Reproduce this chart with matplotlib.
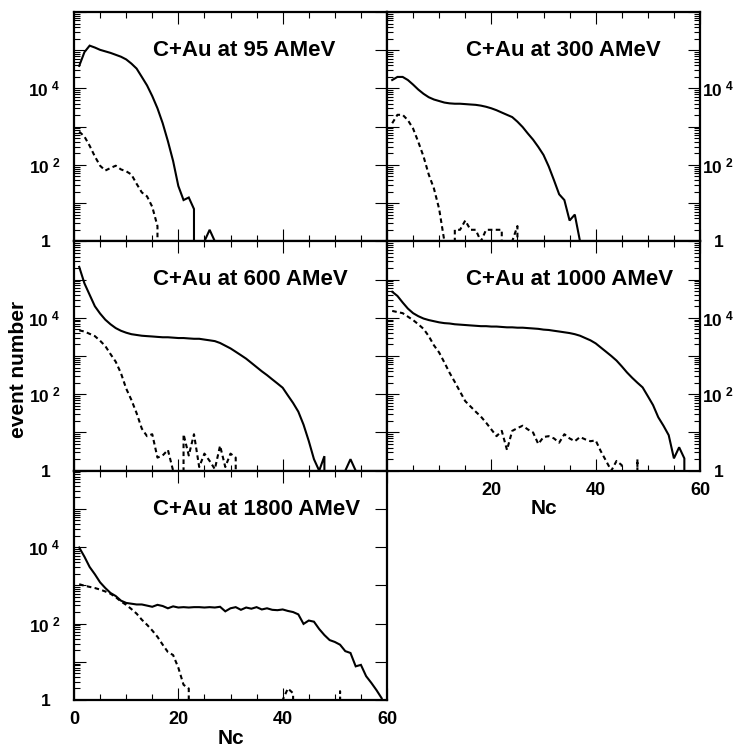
import numpy as np
import matplotlib
matplotlib.use("Agg")
import matplotlib.pyplot as plt
from matplotlib.ticker import FixedLocator, MultipleLocator, LogLocator, FuncFormatter, NullFormatter

plt.rcParams['font.family'] = ['Liberation Sans', 'DejaVu Sans']
plt.rcParams['font.weight'] = 'bold'
plt.rcParams['mathtext.fontset'] = 'custom'
plt.rcParams['mathtext.rm'] = 'Liberation Sans:bold'
plt.rcParams['mathtext.bf'] = 'Liberation Sans:bold'
plt.rcParams['mathtext.it'] = 'Liberation Sans:bold'

# ---------------- data (event counts per Nc bin, Nc = 1, 2, 3, ...) ----------------
titles = ["C+Au at 95 AMeV", "C+Au at 300 AMeV", "C+Au at 600 AMeV",
          "C+Au at 1000 AMeV", "C+Au at 1800 AMeV"]

solid_95 = [38900, 89100, 131800, 117500, 102300, 93300, 85100, 75900, 67600, 57500,
            44700, 33100, 20000, 12000, 6310, 3020, 1230, 417, 126, 28,
            12, 14, 7, 0, 1, 2, 1, 0]
dashed_95 = [741, 550, 316, 166, 95, 71, 83, 95, 76, 68,
             56, 32, 19, 15, 8, 2.5, 0]

solid_300 = [16600, 20000, 20000, 16600, 12600, 9330, 7240, 5890, 5130, 4680,
             4270, 4070, 3980, 3980, 3890, 3800, 3720, 3550, 3310, 3020,
             2690, 2340, 2040, 1780, 1350, 977, 661, 457, 295, 182,
             91, 40, 17, 12, 3.5, 5, 1, 0]
dashed_300 = [1230, 2040, 2040, 1480, 891, 398, 166, 56, 24, 7,
              1, 0, 2, 2, 3.5, 2, 2, 1, 2, 2,
              2, 2, 0, 1, 2.5, 0]

solid_600 = [214000, 79400, 39800, 20000, 12900, 8910, 6760, 5370, 4570, 4070,
             3720, 3550, 3390, 3310, 3240, 3160, 3090, 3090, 3020, 2950,
             2950, 2880, 2820, 2820, 2690, 2570, 2450, 2190, 1860, 1580,
             1290, 1050, 851, 661, 513, 398, 316, 245, 191, 148,
             93, 59, 35, 16, 6, 2, 1, 2.4, 0, 0,
             0, 1, 2, 1, 0]
dashed_600 = [4680, 4370, 3800, 3310, 2510, 1820, 1120, 708, 355, 141,
              71, 32, 12.6, 8, 9, 2.2, 2.5, 3.5, 1, 0,
              9, 2.5, 9, 1.25, 2.8, 1.8, 1.1, 4.5, 1.25, 2.8,
              2.2, 0]

solid_1000 = [47900, 37200, 25100, 17400, 13200, 11000, 9550, 8710, 8130, 7590,
              7240, 7080, 6760, 6610, 6460, 6310, 6170, 6030, 6030, 5890,
              5890, 5750, 5620, 5620, 5500, 5500, 5370, 5250, 5130, 4900,
              4790, 4570, 4370, 4170, 3980, 3720, 3390, 2950, 2570, 2140,
              1660, 1290, 1000, 759, 537, 372, 269, 200, 151, 89,
              52, 25, 15, 8.5, 2.1, 4.1, 2.1, 0]
dashed_1000 = [15100, 14100, 13200, 10700, 8710, 6760, 5130, 3310, 1900, 1230,
               676, 363, 209, 117, 66, 48, 35, 26, 18, 12,
               8, 11, 3.5, 11, 13, 15, 12, 10, 5, 7.6,
               8, 7, 5.4, 9, 7, 5.9, 7.6, 6.6, 5.9, 6.2,
               3.2, 1.8, 1, 1.8, 1.4, 0, 0, 2, 0]

solid_1800 = [9770, 5620, 3020, 1950, 1200, 851, 631, 525, 398, 347,
              331, 316, 316, 295, 275, 309, 288, 251, 282, 263,
              269, 263, 269, 269, 263, 269, 263, 275, 209, 251,
              269, 229, 263, 245, 269, 234, 251, 229, 224, 234,
              214, 200, 174, 98, 120, 112, 72, 50, 37, 33,
              28, 19, 17, 7.6, 8.3, 4.2, 2.8, 1.8, 1.1, 0]
dashed_1800 = [1070, 977, 912, 851, 776, 692, 603, 490, 380, 309,
               240, 182, 126, 93, 66, 45, 28, 18, 15, 7,
               2.5, 2, 0, 0, 0, 0, 0, 0, 0, 0,
               0, 0, 0, 0, 0, 0, 0, 0, 0, 1,
               2, 1.5, 0, 0, 0, 0, 0, 0, 0, 0,
               1.7, 0]

x_ticks_major = [0, 20, 40, 60]

panels = [
    (titles[0], solid_95, dashed_95, 0, 0),
    (titles[1], solid_300, dashed_300, 0, 1),
    (titles[2], solid_600, dashed_600, 1, 0),
    (titles[3], solid_1000, dashed_1000, 1, 1),
    (titles[4], solid_1800, dashed_1800, 2, 0),
]

# ---------------- layout ----------------
W, H = 745.0, 748.0
fig = plt.figure(figsize=(W / 100, H / 100), dpi=100)
cols = [(74, 387), (387, 700)]
rows = [(12, 241.3), (241.3, 470.7), (470.7, 700)]


def rect(c, r):
    x0, x1 = cols[c]
    y0, y1 = rows[r]
    return [x0 / W, 1 - y1 / H, (x1 - x0) / W, (y1 - y0) / H]


def ylab(v, pos):
    if v <= 0:
        return ''
    e = int(round(np.log10(v)))
    if e == 0:
        return '1  '
    if e in (2, 4):
        return r'$10^{\ %d}$' % e
    return ''


for title, s, d, r, c in panels:
    ax = fig.add_axes(rect(c, r))
    xs = np.arange(1, len(s) + 1)
    xd = np.arange(1, len(d) + 1)
    ax.plot(xs, s, color='black', lw=1.5, solid_joinstyle='miter')
    ax.plot(xd, d, color='black', lw=1.5, linestyle=(0, (2.2, 1.6)))
    ax.set_yscale('log', nonpositive='clip')
    ax.set_xlim(0, 60)
    ax.set_ylim(1, 1e6)
    for sp in ax.spines.values():
        sp.set_linewidth(1.6)
    ax.xaxis.set_major_locator(FixedLocator(x_ticks_major))
    ax.xaxis.set_minor_locator(MultipleLocator(5))
    ax.yaxis.set_major_locator(FixedLocator([1, 10, 100, 1e3, 1e4, 1e5, 1e6]))
    ax.yaxis.set_minor_locator(LogLocator(base=10, subs=np.arange(2, 10), numticks=20))
    ax.yaxis.set_minor_formatter(NullFormatter())
    ax.tick_params(which='both', direction='in', top=True, bottom=True,
                   left=True, right=True, width=0.8)
    ax.tick_params(which='major', length=8.5)
    ax.tick_params(which='minor', length=4.5)
    ax.tick_params(axis='x', labelsize=13, pad=8)
    ax.tick_params(axis='y', labelsize=12.5)
    ax.yaxis.set_major_formatter(FuncFormatter(ylab))
    if c == 0:
        ax.tick_params(axis='y', which='minor', right=False)
        ax.tick_params(axis='y', labelleft=True, labelright=False, pad=10)
    else:
        ax.tick_params(axis='y', labelleft=False, labelright=True, pad=24)
        for t in ax.yaxis.get_major_ticks():
            t.label2.set_horizontalalignment('right')
    if (r, c) == (2, 0):
        ax.set_xticklabels(['0', '20', '40', '60'])
        ax.set_xlabel('Nc', fontsize=15, fontweight='bold', labelpad=1)
    elif (r, c) == (1, 1):
        ax.set_xticklabels(['', '20', '40', '60'])
        ax.set_xlabel('Nc', fontsize=15, fontweight='bold', labelpad=0)
    else:
        ax.tick_params(axis='x', labelbottom=False)
    ax.text(0.253, 0.832, title, transform=ax.transAxes, ha='left', va='center',
            fontsize=16, fontweight='bold')

fig.text(18.5 / W, 1 - 369.5 / H, 'event number', rotation=90, ha='center', va='center',
         fontsize=15, fontweight='bold')

fig.savefig('out.png', dpi=100)
